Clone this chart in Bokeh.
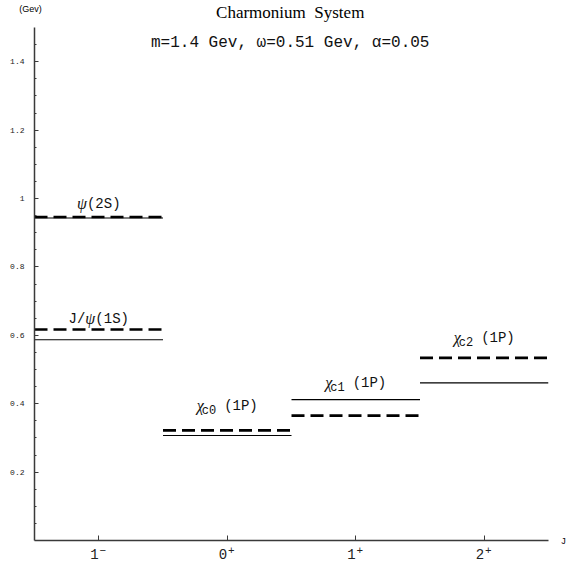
from bokeh.plotting import figure
from bokeh.models import FixedTicker, ColumnDataSource
from bokeh.core.properties import value
from bokeh.embed import file_html
from bokeh.resources import INLINE

# ---- data ----
j_pos = [1, 2, 3, 4]
j_digits = ["1", "0", "1", "2"]
j_parity = ["\u2212", "+", "+", "+"]
# states: position on J axis, solid (calculated) and dashed (experimental) levels in GeV
state_j = [1, 1, 2, 3, 4]
solid_levels = [0.943, 0.587, 0.307, 0.412, 0.461]
dashed_levels = [0.946, 0.617, 0.322, 0.365, 0.534]
# label pieces
label_pre = ["", "J/", "", "", ""]
label_greek = ["\u03c8", "\u03c8", "\u03c7", "\u03c7", "\u03c7"]
label_sub = ["", "", "c0", "c1", "c2"]
label_post = ["(2S)", "(1S)", "(1P)", "(1P)", "(1P)"]
label_y = [0.985, 0.649, 0.394, 0.461, 0.593]
y_ticks = [0.2, 0.4, 0.6, 0.8, 1.0, 1.2, 1.4]
y_tick_labels = {0.2: "0.2", 0.4: "0.4", 0.6: "0.6", 0.8: "0.8", 1.0: "1", 1.2: "1.2", 1.4: "1.4"}
y_minor = [0.05, 0.1, 0.15, 0.25, 0.3, 0.35, 0.45, 0.5, 0.55, 0.65, 0.7, 0.75, 0.85, 0.9, 0.95,
           1.05, 1.1, 1.15, 1.25, 1.3, 1.35, 1.45]
title_text = "Charmonium\u00a0\u00a0System"
subtitle_text = "m=1.4 Gev, \u03c9=0.51 Gev, \u03b1=0.05"

MONO = "Liberation Mono"
SERIF = "Liberation Serif"

p = figure(width=567, height=569, x_range=(0.5, 4.5), y_range=(0, 1.5),
           output_backend="svg", toolbar_location=None,
           min_border_left=34, min_border_right=19, min_border_top=27, min_border_bottom=29)
p.background_fill_color = "white"
p.border_fill_color = "white"
p.outline_line_color = None
p.xgrid.visible = False
p.ygrid.visible = False

# axes
axcol = "#3a3a3a"
p.yaxis.ticker = FixedTicker(ticks=y_ticks, minor_ticks=y_minor)
p.yaxis.major_label_overrides = y_tick_labels
p.yaxis.major_label_text_font = MONO
p.yaxis.major_label_text_font_size = "8px"
p.yaxis.major_label_text_color = "#222222"
p.yaxis.major_tick_in = 4
p.yaxis.major_tick_out = 0
p.yaxis.minor_tick_in = 2
p.yaxis.minor_tick_out = 0
p.yaxis.major_label_standoff = 10
p.yaxis.axis_line_color = axcol
p.yaxis.axis_line_width = 1.5
p.yaxis.major_tick_line_color = axcol
p.yaxis.minor_tick_line_color = axcol

p.xaxis.ticker = FixedTicker(ticks=j_pos, minor_ticks=[])
p.xaxis.major_label_overrides = {j: d + "\u00a0" for j, d in zip(j_pos, j_digits)}
p.xaxis.major_label_text_font = MONO
p.xaxis.major_label_text_font_size = "14px"
p.xaxis.major_label_text_color = "#222222"
p.xaxis.major_tick_in = 5
p.xaxis.major_tick_out = 0
p.xaxis.major_label_standoff = 6
p.xaxis.axis_line_color = axcol
p.xaxis.axis_line_width = 1.5
p.xaxis.major_tick_line_color = axcol

# parity superscripts next to the J tick labels
p.text(x=j_pos, y=[0] * len(j_pos), text=j_parity, x_offset=4, y_offset=10, level="overlay",
       text_font=value(MONO), text_font_size="11px", text_align="center", text_baseline="middle",
       text_color="#222222")

# level lines
src = ColumnDataSource(dict(x0=[j - 0.5 for j in state_j], x1=[j + 0.5 for j in state_j],
                            ys=solid_levels, yd=dashed_levels))
p.segment(x0="x0", x1="x1", y0="ys", y1="ys", source=src, line_color="black", line_width=1.2)
p.segment(x0="x0", x1="x1", y0="yd", y1="yd", source=src, line_color="black", line_width=2.6,
          line_dash="13 6")

# state labels built from pieces
W_MAIN = 8.4
W_GREEK = 10.0
W_SUB = 7.2
for j, pre, g, sub, post, ly in zip(state_j, label_pre, label_greek, label_sub, label_post, label_y):
    total = len(pre) * W_MAIN + W_GREEK + len(sub) * W_SUB + (3 if sub else 0) + len(post) * W_MAIN
    xo = -total / 2
    if pre:
        p.text(x=[j], y=[ly], text=[pre], x_offset=xo, text_font=value(MONO), text_font_size="14px",
               text_baseline="alphabetic", text_align="left", text_color="#111111")
        xo += len(pre) * W_MAIN
    p.text(x=[j], y=[ly], text=[g], x_offset=xo, text_font=value(SERIF), text_font_style="italic",
           text_font_size="16px", text_baseline="alphabetic", text_align="left", text_color="#111111")
    xo += W_GREEK if not sub else 5
    if sub:
        p.text(x=[j], y=[ly], text=[sub], x_offset=xo, y_offset=5, text_font=value(MONO),
               text_font_size="12px", text_baseline="alphabetic", text_align="left", text_color="#111111")
        xo += len(sub) * W_SUB + 8
    p.text(x=[j], y=[ly], text=[post], x_offset=xo, text_font=value(MONO), text_font_size="14px",
           text_baseline="alphabetic", text_align="left", text_color="#111111")

# titles / axis names (overlay level so they may sit outside the frame)
p.text(x=[2.49], y=[1.5], y_offset=-15, text=[title_text], level="overlay", text_font=value(SERIF),
       text_font_size="17px", text_align="center", text_baseline="middle",
       text_color="black")
p.text(x=[2.49], y=[1.5], y_offset=15, text=[subtitle_text], level="overlay", text_font=value(MONO),
       text_font_size="16px", text_align="center", text_baseline="middle", text_color="#111111")
p.text(x=[0.5], y=[1.5], x_offset=-4, y_offset=-19, text=["(Gev)"], level="overlay",
       text_font=value("Liberation Sans"), text_font_size="9px", text_align="center",
       text_baseline="middle", text_color="black")
p.text(x=[4.5], y=[0.0], x_offset=15, y_offset=1, text=["J"], level="overlay", text_font=value(MONO),
       text_font_size="9px", text_align="center", text_baseline="middle", text_color="black")

open("out.html", "w").write(file_html(p, INLINE))
